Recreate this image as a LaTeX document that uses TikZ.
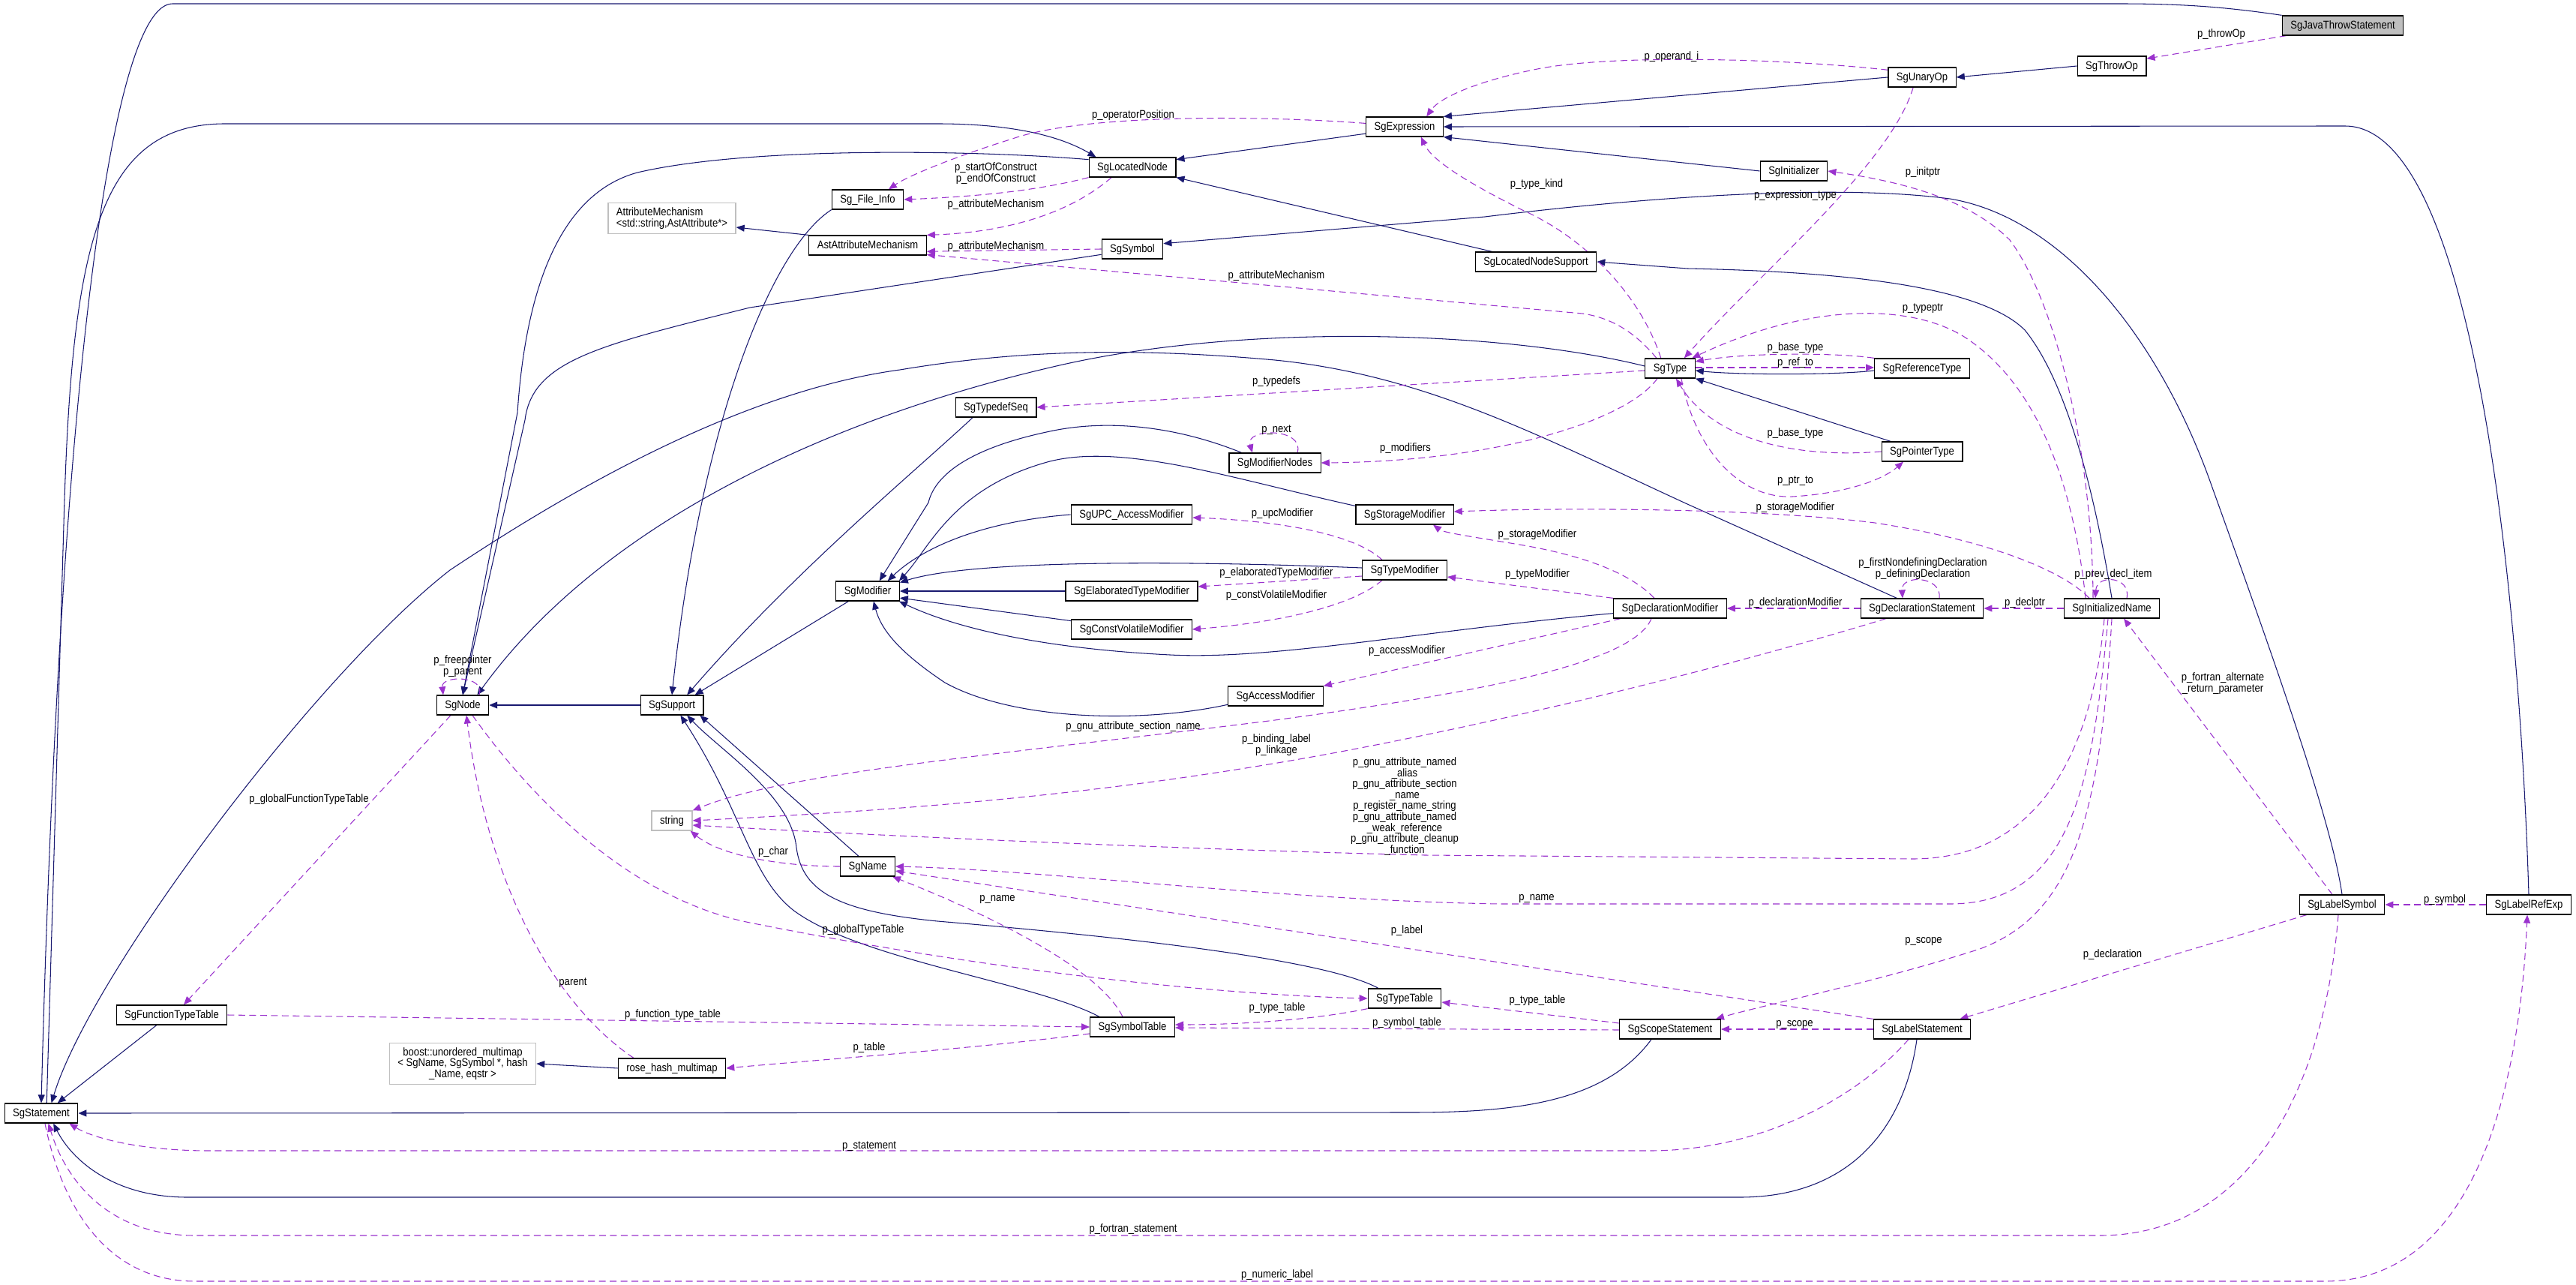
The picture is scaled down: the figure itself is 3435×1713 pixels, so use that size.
\documentclass[tikz,border=0pt]{standalone}
\usepackage{fontspec}
\setmainfont{Liberation Sans}[FakeStretch=0.875]
\usetikzlibrary{arrows.meta,backgrounds}
\definecolor{inhblue}{RGB}{25,25,112}
\definecolor{useorchid}{RGB}{154,50,205}
\definecolor{extgray}{RGB}{191,191,191}
\tikzset{
  cls/.style={rectangle,draw=black,line width=0.7pt,fill=white,inner xsep=2.2mm,inner ysep=0pt,minimum height=5.2mm,text height=2.3mm,text depth=0.6mm},
  extcls/.style={cls,draw=extgray},
  curcls/.style={cls,fill=extgray},
  extmulti/.style={rectangle,draw=extgray,line width=0.7pt,fill=white,inner xsep=2.2mm,inner ysep=1.2mm},
  lbl/.style={inner sep=0pt,text height=2.3mm,text depth=0.6mm},
  lblm/.style={inner sep=0pt,align=center},
  inh/.style={draw=inhblue,line width=0.6pt,-{Triangle[length=2.2mm,width=1.8mm]}},
  use/.style={draw=useorchid,line width=0.6pt,dash pattern=on 1.8mm off 1.1mm,-{Triangle[length=2.2mm,width=1.8mm]}}
}
\begin{document}
\begin{tikzpicture}[x=0.2mm,y=-0.2mm,font=\fontsize{8.5}{8.3}\selectfont]
  \useasboundingbox (0,0) rectangle (3435,1713);
  \node[curcls] (jts) at (3124,34) {SgJavaThrowStatement};
  \node[cls] (throwop) at (2816,88) {SgThrowOp};
  \node[cls] (unaryop) at (2563,103) {SgUnaryOp};
  \node[cls] (expr) at (1873,169) {SgExpression};
  \node[cls] (locnode) at (1510,223) {SgLocatedNode};
  \node[cls] (fileinfo) at (1157,266) {Sg\_File\_Info};
  \node[cls] (astattr) at (1157,327) {AstAttributeMechanism};
  \node[extmulti,align=left] (attrmech) at (896,291) {AttributeMechanism\\<std::string,AstAttribute*>};
  \node[cls] (symbol) at (1510,332) {SgSymbol};
  \node[cls] (locsupp) at (2048,349) {SgLocatedNodeSupport};
  \node[cls] (initializer) at (2392,228) {SgInitializer};
  \node[cls] (type) at (2227,491) {SgType};
  \node[cls] (reftype) at (2563,491) {SgReferenceType};
  \node[cls] (ptrtype) at (2563,602) {SgPointerType};
  \node[cls] (typedefseq) at (1328,543) {SgTypedefSeq};
  \node[cls] (modnodes) at (1700,617) {SgModifierNodes};
  \node[cls] (upcmod) at (1509,686) {SgUPC\_AccessModifier};
  \node[cls] (storagemod) at (1873,686) {SgStorageModifier};
  \node[cls] (typemod) at (1873,760) {SgTypeModifier};
  \node[cls] (elabmod) at (1509,788) {SgElaboratedTypeModifier};
  \node[cls] (cvmod) at (1509,839) {SgConstVolatileModifier};
  \node[cls] (declmod) at (2227,811) {SgDeclarationModifier};
  \node[cls] (accessmod) at (1701,928) {SgAccessModifier};
  \node[cls] (modifier) at (1157,788) {SgModifier};
  \node[cls] (sgnode) at (617,940) {SgNode};
  \node[cls] (support) at (896,940) {SgSupport};
  \node[extcls] (strnode) at (896,1094) {string};
  \node[cls] (declstmt) at (2563,811) {SgDeclarationStatement};
  \node[cls] (initname) at (2816,811) {SgInitializedName};
  \node[cls] (sgname) at (1157,1155) {SgName};
  \node[cls] (functable) at (229,1353) {SgFunctionTypeTable};
  \node[extmulti,align=center] (boostmap) at (617,1418) {boost::unordered\_multimap\\< SgName, SgSymbol *, hash\\\_Name, eqstr >};
  \node[cls] (rosemap) at (896,1424) {rose\_hash\_multimap};
  \node[cls] (statement) at (55,1484) {SgStatement};
  \node[cls] (typetable) at (1873,1331) {SgTypeTable};
  \node[cls] (symtable) at (1510,1369) {SgSymbolTable};
  \node[cls] (scopestmt) at (2227,1372) {SgScopeStatement};
  \node[cls] (labelstmt) at (2563,1372) {SgLabelStatement};
  \node[cls] (labelsym) at (3123,1206) {SgLabelSymbol};
  \node[cls] (labelref) at (3372,1206) {SgLabelRefExp};

  \node[lbl] (lthrowop) at (2962,45) {p\_throwOp};
  \node[lbl] (loperand) at (2229,75) {p\_operand\_i};
  \node[lbl] (lopos) at (1511,153) {p\_operatorPosition};
  \node[lblm] (lconstruct) at (1328,231) {p\_startOfConstruct\\p\_endOfConstruct};
  \node[lbl] (lattrA) at (1328,272) {p\_attributeMechanism};
  \node[lbl] (lattrB) at (1328,328) {p\_attributeMechanism};
  \node[lbl] (lattrC) at (1702,367) {p\_attributeMechanism};
  \node[lbl] (ltypekind) at (2049,245) {p\_type\_kind};
  \node[lbl] (linitptr) at (2564,229) {p\_initptr};
  \node[lbl] (lexprtype) at (2394,260) {p\_expression\_type};
  \node[lbl] (ltypeptr) at (2564,410) {p\_typeptr};
  \node[lbl] (lbaseA) at (2394,463) {p\_base\_type};
  \node[lbl] (lrefto) at (2394,483) {p\_ref\_to};
  \node[lbl] (ltypedefs) at (1702,508) {p\_typedefs};
  \node[lbl] (lnext) at (1702,572) {p\_next};
  \node[lbl] (lbaseB) at (2394,577) {p\_base\_type};
  \node[lbl] (lmodifiers) at (1874,597) {p\_modifiers};
  \node[lbl] (lptrto) at (2394,640) {p\_ptr\_to};
  \node[lbl] (lstorA) at (2394,676) {p\_storageModifier};
  \node[lbl] (lupc) at (1710,684) {p\_upcModifier};
  \node[lbl] (lstorB) at (2050,712) {p\_storageModifier};
  \node[lblm] (ldefdecl) at (2564,758) {p\_firstNondefiningDeclaration\\p\_definingDeclaration};
  \node[lbl] (lprev) at (2818,765) {p\_prev\_decl\_item};
  \node[lbl] (lelab) at (1702,763) {p\_elaboratedTypeModifier};
  \node[lbl] (ltypemod) at (2050,765) {p\_typeModifier};
  \node[lbl] (lcv) at (1702,793) {p\_constVolatileModifier};
  \node[lbl] (ldeclmod) at (2394,803) {p\_declarationModifier};
  \node[lbl] (ldeclptr) at (2700,803) {p\_declptr};
  \node[lbl] (laccess) at (1876,867) {p\_accessModifier};
  \node[lblm] (lfree) at (617,888) {p\_freepointer\\p\_parent};
  \node[lblm] (lfortalt) at (2964,911) {p\_fortran\_alternate\\\_return\_parameter};
  \node[lbl] (lsection) at (1511,968) {p\_gnu\_attribute\_section\_name};
  \node[lblm] (lbinding) at (1702,993) {p\_binding\_label\\p\_linkage};
  \node[lblm] (lgnu) at (1873,1075) {p\_gnu\_attribute\_named\\\_alias\\p\_gnu\_attribute\_section\\\_name\\p\_register\_name\_string\\p\_gnu\_attribute\_named\\\_weak\_reference\\p\_gnu\_attribute\_cleanup\\\_function};
  \node[lbl] (lglobfunc) at (412,1065) {p\_globalFunctionTypeTable};
  \node[lbl] (lchar) at (1031,1135) {p\_char};
  \node[lbl] (lnameA) at (1330,1197) {p\_name};
  \node[lbl] (lnameB) at (2049,1196) {p\_name};
  \node[lbl] (lglobtype) at (1151,1239) {p\_globalTypeTable};
  \node[lbl] (llabel) at (1876,1240) {p\_label};
  \node[lbl] (lscopeA) at (2565,1253) {p\_scope};
  \node[lbl] (ldecl) at (2817,1272) {p\_declaration};
  \node[lbl] (lsymbol) at (3260,1199) {p\_symbol};
  \node[lbl] (lparent) at (764,1309) {parent};
  \node[lbl] (ltypetabA) at (1703,1343) {p\_type\_table};
  \node[lbl] (ltypetabB) at (2050,1333) {p\_type\_table};
  \node[lbl] (lfunctab) at (897,1352) {p\_function\_type\_table};
  \node[lbl] (lsymtab) at (1876,1363) {p\_symbol\_table};
  \node[lbl] (lscopeB) at (2393,1364) {p\_scope};
  \node[lbl] (ltable) at (1159,1396) {p\_table};
  \node[lbl] (lstatement) at (1159,1527) {p\_statement};
  \node[lbl] (lfortstmt) at (1511,1638) {p\_fortran\_statement};
  \node[lbl] (lnumeric) at (1703,1699) {p\_numeric\_label};

  \begin{scope}[on background layer]
  \draw[inh] (jts.north west) .. controls (2960,8) and (2900,5) .. (2824,5) -- (230,5) .. controls (150,5) and (80,500) .. (statement.north);
  \draw[inh] (statement.62) -- (85,700) .. controls (95,330) and (130,165) .. (300,165) -- (1250,165) .. controls (1360,165) and (1420,185) .. ([xshift=2mm]locnode.north west);
  \draw[inh] (functable.-146) -- (statement.32);
  \draw[inh] (declstmt.158) -- (2250,672) .. controls (2050,580) and (1900,500) .. (1700,480) .. controls (1500,462) and (1350,468) .. (1200,493) .. controls (1000,520) and (780,640) .. (600,760) .. controls (420,900) and (120,1300) .. (statement.45);
  \draw[inh] ([xshift=-5mm]scopestmt.south) .. controls (2140,1470) and (2020,1483) .. (1880,1483) -- (statement.east);
  \draw[inh] ([xshift=-1.4mm]labelstmt.south) .. controls (2540,1500) and (2470,1596) .. (2320,1596) -- (250,1596) .. controls (150,1596) and (95,1545) .. (statement.-40);
  \draw[inh] (expr.-170) -- (locnode.10);
  \draw[inh] ([xshift=4.6mm]locsupp.north west) -- (locnode.south east);
  \draw[inh] (unaryop.west) -- (expr.north east);
  \draw[inh] (initializer.west) -- (expr.south east);
  \draw[inh] (labelref.north) .. controls (3360,800) and (3300,168) .. (3127,168) -- (expr.east);
  \draw[inh] (throwop.west) -- (unaryop.east);
  \draw[inh] (locnode.170) .. controls (1300,200) and (1000,195) .. (850,230) .. controls (740,260) and (700,400) .. (690,550) -- (sgnode.north);
  \draw[inh] (symbol.-170) -- (1000,410) .. controls (800,460) and (710,480) .. (700,560) -- (sgnode.north);
  \draw[inh] (type.175) .. controls (2000,440) and (1650,430) .. (1400,490) .. controls (1100,560) and (800,700) .. (sgnode.35);
  \draw[inh] (fileinfo.south west) .. controls (1030,330) and (935,560) .. (support.north);
  \draw[inh] ([xshift=-6.2mm]typedefseq.south) .. controls (1230,620) and (1060,760) .. (support.34);
  \draw[inh] (modifier.-152) -- (support.24);
  \draw[inh] (support.west) -- (sgnode.east);
  \draw[inh] ([xshift=-2.4mm]sgname.north) -- (support.-20);
  \draw[inh] ([xshift=-8.8mm]symtable.north) .. controls (1380,1310) and (1150,1280) .. (1060,1215) .. controls (1000,1170) and (990,1080) .. (support.-50);
  \draw[inh] ([xshift=-7mm]typetable.north) .. controls (1760,1275) and (1450,1245) .. (1250,1228) .. controls (1120,1215) and (1070,1190) .. (1062,1130) .. controls (1055,1060) and (960,1000) .. (support.-34);
  \draw[inh] (modnodes.163) .. controls (1560,565) and (1470,560) .. (1400,575) .. controls (1280,600) and (1245,640) .. (1238,670) -- (modifier.41);
  \draw[inh] (storagemod.170) .. controls (1650,640) and (1500,590) .. (1400,615) .. controls (1270,650) and (1240,730) .. (modifier.18);
  \draw[inh] (upcmod.west) .. controls (1310,695) and (1230,730) .. (modifier.27);
  \draw[inh] (typemod.177) .. controls (1600,748) and (1300,745) .. (modifier.15);
  \draw[inh] (elabmod.west) -- (modifier.east);
  \draw[inh] (cvmod.172) -- (modifier.-12);
  \draw[inh] (declmod.-175) .. controls (1900,840) and (1700,880) .. (1560,873) .. controls (1400,865) and (1280,840) .. (modifier.-18);
  \draw[inh] (accessmod.-170) .. controls (1520,965) and (1350,960) .. (1260,910) .. controls (1200,870) and (1175,840) .. (modifier.-60);
  \draw[inh] (astattr.north west) -- (attrmech.-8);
  \draw[inh] (initname.north) .. controls (2800,700) and (2765,520) .. (2700,440) .. controls (2640,380) and (2450,362) .. (2250,358) -- (locsupp.east);
  \draw[inh] ([yshift=-0.6mm]reftype.west) .. controls (2450,500) and (2320,500) .. ([yshift=-0.6mm]type.east);
  \draw[inh] (ptrtype.162) -- (type.south east);
  \draw[inh] (labelsym.north) .. controls (3110,1100) and (3040,900) .. (2950,650) .. controls (2880,450) and (2750,290) .. (2600,265) .. controls (2450,245) and (2200,262) .. (1980,289) -- (symbol.10);
  \draw[inh] (rosemap.west) -- (boostmap.east);

  \draw[use] ([xshift=1.2mm]jts.south west) -- (throwop.12);
  \draw[use] (unaryop.168) .. controls (2380,78) and (2150,72) .. (2050,92) .. controls (1970,108) and (1920,130) .. (expr.25);
  \draw[use] (expr.175) .. controls (1700,155) and (1450,150) .. (1350,185) .. controls (1270,210) and (1210,235) .. (fileinfo.26);
  \draw[use] (locnode.south west) .. controls (1380,255) and (1300,262) .. (fileinfo.east);
  \draw[use] (locnode.-154) .. controls (1420,290) and (1330,310) .. (astattr.north east);
  \draw[use] (symbol.west) -- (astattr.-6);
  \draw[use] (type.143) .. controls (2190,455) and (2160,425) .. (2110,418) -- (astattr.-9);
  \draw[use] (type.132) .. controls (2190,400) and (2120,320) .. (2030,280) .. controls (1960,245) and (1910,215) .. (expr.-32);
  \draw[use] (unaryop.-131) .. controls (2520,220) and (2350,360) .. (type.36);
  \draw[use] ([xshift=-5mm]initname.north) .. controls (2790,600) and (2740,400) .. (2680,320) .. controls (2620,260) and (2520,240) .. (initializer.east);
  \draw[use] ([xshift=-7mm]initname.north) .. controls (2765,650) and (2720,520) .. (2628,455) .. controls (2560,405) and (2420,400) .. (type.25);
  \draw[use] (reftype.north west) .. controls (2450,470) and (2330,470) .. (type.15);
  \draw[use] ([yshift=0.2mm]type.east) -- ([yshift=0.2mm]reftype.west);
  \draw[use] (ptrtype.west) .. controls (2380,612) and (2280,580) .. ([xshift=1.6mm]type.south);
  \draw[use] ([xshift=3mm]type.south) .. controls (2260,600) and (2320,665) .. (2390,662) .. controls (2460,658) and (2510,640) .. ([xshift=-5mm]ptrtype.south);
  \draw[use] (type.-175) -- (typedefseq.east);
  \draw[use] ([xshift=-3.4mm]type.south) .. controls (2170,560) and (2000,615) .. (modnodes.east);
  \draw[use] ([xshift=6mm]modnodes.north) .. controls (1740,570) and (1660,570) .. ([xshift=-6mm]modnodes.north);
  \draw[use] ([xshift=-6mm]typemod.north) .. controls (1810,715) and (1720,695) .. ([yshift=-0.8mm]upcmod.east);
  \draw[use] ([yshift=-1.6mm]typemod.west) -- ([yshift=1.2mm]elabmod.east);
  \draw[use] ([xshift=-6mm]typemod.south) .. controls (1800,810) and (1700,830) .. (cvmod.east);
  \draw[use] ([xshift=-4.2mm]declmod.north) .. controls (2170,760) and (2100,738) .. (2020,725) .. controls (1960,715) and (1925,710) .. ([xshift=7.6mm]storagemod.south);
  \draw[use] (declmod.north west) -- ([yshift=-1.8mm]typemod.east);
  \draw[use] ([xshift=2mm]declmod.south west) -- (accessmod.north east);
  \draw[use] ([xshift=-5mm]declmod.south) .. controls (2180,880) and (2000,920) .. (1700,960) .. controls (1300,1010) and (1050,1030) .. (strnode.north east);
  \draw[use] (declstmt.west) -- (declmod.east);
  \draw[use] ([xshift=4.6mm]declstmt.north) .. controls (2590,768) and (2535,765) .. ([xshift=-5.2mm]declstmt.north);
  \draw[use] ([xshift=-9.6mm]declstmt.south) .. controls (2400,860) and (2150,930) .. (1850,990) .. controls (1500,1060) and (1200,1080) .. (strnode.east);
  \draw[use] (initname.west) -- (declstmt.east);
  \draw[use] ([xshift=4mm]initname.north) .. controls (2842,768) and (2796,765) .. ([xshift=-4.4mm]initname.north);
  \draw[use] ([xshift=-6mm]initname.north) .. controls (2750,760) and (2650,720) .. (2500,697) .. controls (2350,678) and (2100,676) .. ([yshift=0.8mm]storagemod.east);
  \draw[use] ([xshift=-2mm]initname.south) .. controls (2790,1000) and (2720,1145) .. (2550,1145) -- (1900,1140) .. controls (1500,1130) and (1100,1110) .. ([yshift=-1.2mm]strnode.east);
  \draw[use] ([xshift=-1mm]initname.south) .. controls (2790,1050) and (2760,1205) .. (2600,1205) -- (2000,1205) .. controls (1700,1200) and (1400,1160) .. (sgname.east);
  \draw[use] (initname.south) .. controls (2800,1100) and (2760,1220) .. (2640,1265) .. controls (2500,1310) and (2350,1340) .. ([xshift=-1.4mm]scopestmt.north east);
  \draw[use] ([xshift=-2.6mm]labelsym.north) -- ([xshift=3.2mm]initname.south);
  \draw[use] ([xshift=2mm]labelsym.south west) -- ([xshift=-3mm]labelstmt.north east);
  \draw[use] (labelref.west) -- (labelsym.east);
  \draw[use] (labelstmt.west) -- (scopestmt.east);
  \draw[use] (labelstmt.north west) -- ([yshift=-1.2mm]sgname.east);
  \draw[use] ([xshift=-3.6mm]labelstmt.south) .. controls (2470,1470) and (2340,1534) .. (2200,1534) -- (280,1534) .. controls (180,1534) and (120,1515) .. (statement.-20);
  \draw[use] ([xshift=-1mm]labelsym.south) .. controls (3100,1450) and (3000,1647) .. (2800,1647) -- (260,1647) .. controls (150,1647) and (90,1580) .. (statement.-55);
  \draw[use] (statement.-70) .. controls (85,1620) and (150,1708) .. (260,1708) -- (3100,1708) .. controls (3300,1708) and (3360,1450) .. ([xshift=-0.4mm]labelref.south);
  \draw[use] ([yshift=-0.2mm]scopestmt.west) -- ([yshift=-0.2mm]symtable.east);
  \draw[use] ([yshift=1.6mm]scopestmt.west) -- ([yshift=-1mm]typetable.east);
  \draw[use] (typetable.south west) .. controls (1750,1360) and (1650,1366) .. ([yshift=0.6mm]symtable.east);
  \draw[use] ([xshift=-2.6mm]symtable.north) .. controls (1460,1280) and (1270,1200) .. ([xshift=-0.8mm]sgname.south east);
  \draw[use] ([yshift=-1.8mm]symtable.west) .. controls (1300,1398) and (1100,1412) .. (rosemap.east);
  \draw[use] (functable.east) -- (symtable.west);
  \draw[use] ([xshift=-10.2mm]rosemap.north) .. controls (740,1340) and (650,1180) .. ([xshift=1mm]sgnode.south);
  \draw[use] ([xshift=-3.2mm]sgnode.south) -- ([xshift=3.2mm]functable.north);
  \draw[use] ([xshift=2.6mm]sgnode.south) .. controls (720,1080) and (850,1200) .. (1000,1230) .. controls (1300,1290) and (1600,1325) .. (typetable.west);
  \draw[use] ([xshift=4.4mm]sgnode.north) .. controls (648,900) and (588,900) .. ([xshift=-5.2mm]sgnode.north);
  \draw[use] (sgname.west) .. controls (1040,1155) and (960,1140) .. ([xshift=-0.6mm]strnode.south east);
  \end{scope}
\end{tikzpicture}
\end{document}
